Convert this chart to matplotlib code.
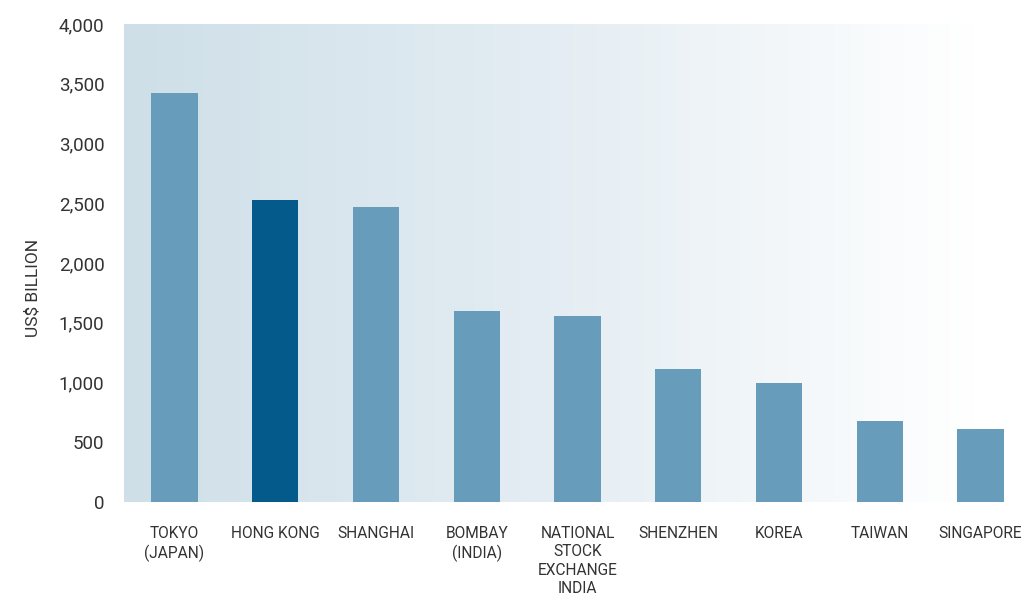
import matplotlib
matplotlib.use("Agg")
import matplotlib.pyplot as plt
import numpy as np
from matplotlib.colors import LinearSegmentedColormap

categories = ["TOKYO\n(JAPAN)", "HONG KONG", "SHANGHAI", "BOMBAY\n(INDIA)",
              "NATIONAL\nSTOCK\nEXCHANGE\nINDIA", "SHENZHEN", "KOREA", "TAIWAN", "SINGAPORE"]
values = [3420, 2530, 2465, 1595, 1553, 1110, 995, 678, 610]
highlight = "HONG KONG"

plt.rcParams['font.family'] = ['Roboto', 'DejaVu Sans']

fig = plt.figure(figsize=(10.24, 5.97), dpi=100)
ax = fig.add_axes([124/1024, 1 - 502/597, 900/1024, (502 - 24)/597])

x = np.arange(len(categories))
colors = ["#045a8a" if c == highlight else "#679cbb" for c in categories]
ax.bar(x, values, width=0.46, color=colors, zorder=3)

# gradient background
cmap = LinearSegmentedColormap.from_list("bg", ["#cedfe8", "#e4edf3", "#ffffff"])
grad = np.linspace(0, 1, 256).reshape(1, -1)
ax.imshow(grad, cmap=cmap, aspect="auto", extent=(-0.5, 7.96, 0, 4000), zorder=0)
ax.set_xlim(-0.5, 8.43)
ax.set_ylim(0, 4000)

for s in ax.spines.values():
    s.set_visible(False)

ax.set_yticks(np.arange(0, 4001, 500))
ax.set_yticklabels([f"{v:,}" for v in range(0, 4001, 500)], fontsize=13.5, color="#333333")
ax.set_xticks(x)
ax.set_xticklabels(categories, fontsize=11.2, color="#333333", linespacing=1.3, va="top")
ax.tick_params(axis="both", length=0)
ax.tick_params(axis="y", pad=14)
ax.tick_params(axis="x", pad=17)

ax.set_ylabel("US$ BILLION", fontsize=12.5, color="#333333")
ax.yaxis.set_label_coords(-0.093, 0.448)

fig.savefig("out.png", dpi=100)
